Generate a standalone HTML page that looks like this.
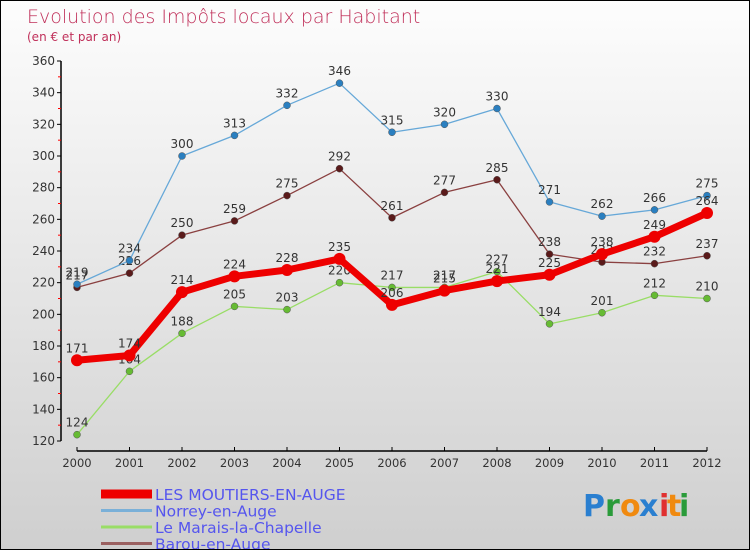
<!DOCTYPE html>
<html><head><meta charset="utf-8"><style>
body{margin:0}
#c{width:750px;height:550px;position:relative;box-sizing:border-box;border:1px solid #000;background:linear-gradient(#fdfdfd,#cfcfcf);font-family:"DejaVu Sans","Liberation Sans",sans-serif;overflow:hidden}
svg text{font-family:"DejaVu Sans","Liberation Sans",sans-serif}
</style></head><body>
<div id="c">
<svg id="s" width="750" height="550" xmlns="http://www.w3.org/2000/svg">
<text x="26" y="22" font-size="19" fill="#c0305a" font-weight="200">Evolution des Impôts locaux par Habitant</text>
<text x="26" y="40" font-size="12" fill="#c0305a">(en € et par an)</text>
<g id="axes"></g><g id="series"></g><g id="legend"></g>
<g font-size="30" font-weight="bold">
<text x="582" y="515" fill="#2a7fd0">P</text><text x="604" y="515" fill="#2a9b3a">r</text><text x="619" y="515" fill="#f08a10">o</text><text x="638" y="515" fill="#2a7fd0">x</text><text x="658" y="515" fill="#e03030">i</text><text x="666" y="515" fill="#f08a10">t</text><text x="678" y="515" fill="#2a9b3a">i</text>
</g>
</svg>
</div>
<script>
const years=[2000,2001,2002,2003,2004,2005,2006,2007,2008,2009,2010,2011,2012];
const yTicks=[120,140,160,180,200,220,240,260,280,300,320,340,360];
const moutiers=[171,174,214,224,228,235,206,215,221,225,238,249,264];
const norrey=[219,234,300,313,332,346,315,320,330,271,262,266,275];
const marais=[124,164,188,205,203,220,217,217,227,194,201,212,210];
const barou=[217,226,250,259,275,292,261,277,285,238,233,232,237];
const names=["LES MOUTIERS-EN-AUGE","Norrey-en-Auge","Le Marais-la-Chapelle","Barou-en-Auge"];
const NS="http://www.w3.org/2000/svg";
const X=y=>76+(y-2000)*52.5;
const Y=v=>440-(v-120)*380/240;
function mk(t,a,p){const e=document.createElementNS(NS,t);for(const k in a)e.setAttribute(k,a[k]);p.appendChild(e);return e;}
const ax=document.getElementById('axes');
let e=mk('line',{x1:60,y1:60,x2:60,y2:440,stroke:'#000','stroke-width':1.5},ax);

e=mk('line',{x1:76,y1:450,x2:706,y2:450,stroke:'#000','stroke-width':1.5},ax);

yTicks.forEach((t,i)=>{mk('line',{x1:56,y1:Y(t),x2:60,y2:Y(t),stroke:'#000'},ax);
 if(i<yTicks.length-1)mk('line',{x1:57,y1:Y(t+10),x2:60,y2:Y(t+10),stroke:'#f00'},ax);
 const l=mk('text',{x:54,y:Y(t)+4,'text-anchor':'end','font-size':12,fill:'#333'},ax);l.textContent=t;
 });
years.forEach(y=>{mk('line',{x1:X(y),y1:446,x2:X(y),y2:450,stroke:'#000'},ax);
 const l=mk('text',{x:X(y),y:466,'text-anchor':'middle','font-size':11.5,fill:'#333'},ax);l.textContent=y;
 });
const sg=document.getElementById('series');
const defs=[[marais,'#99dd66','#66bb33',1.3,3.5,'series-le-marais-la-chapelle'],[barou,'#8a4040','#5a1a1a',1.3,3.5,'series-barou-en-auge'],[norrey,'#66a8d8','#2a7fc0',1.3,3.5,'series-norrey-en-auge'],[moutiers,'#ee0000','#ee0000',7,6,'series-les-moutiers-en-auge']];
defs.forEach(([d,lc,pc,w,r,n])=>{const g=mk('g',{},sg);
 const p=mk('polyline',{points:d.map((v,i)=>X(years[i])+','+Y(v)).join(' '),fill:'none',stroke:lc,'stroke-width':w,'stroke-linejoin':'round'},g);
 
 d.forEach((v,i)=>{const c=mk('circle',{cx:X(years[i]),cy:Y(v),r:r,fill:pc,stroke:'#555','stroke-width':w>3?0:0.5},g);
  
  const t=mk('text',{x:X(years[i]),y:Y(v)-8,'text-anchor':'middle','font-size':12,fill:'#333'},g);t.textContent=v;
  });});
const lg=document.getElementById('legend');
const lcol=['#ee0000','#7ab0d8','#99dd66','#9a6060'];
names.forEach((n,i)=>{const yy=493+i*16.5;const g=mk('g',{},lg);
 mk('line',{x1:100,y1:yy,x2:151,y2:yy,stroke:lcol[i],'stroke-width':i==0?9:3},g);
 const t=mk('text',{x:154,y:yy+6,'font-size':15.5,fill:'#5555ee'},g);t.textContent=n;});
</script>
</body></html>
